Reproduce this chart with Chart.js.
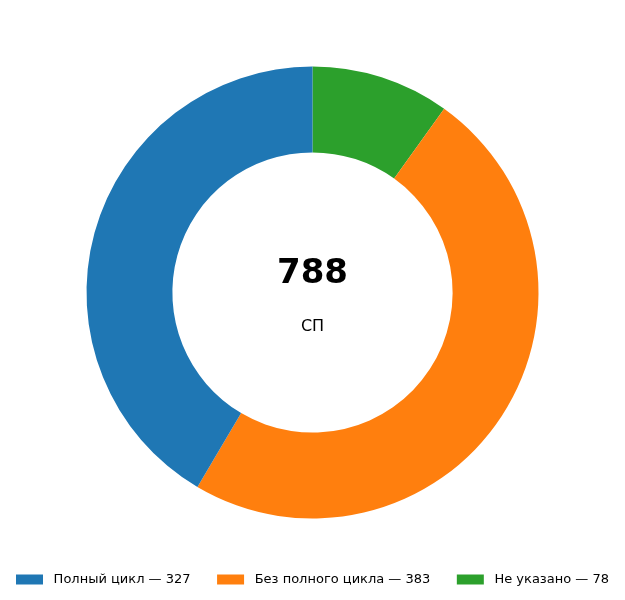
<!DOCTYPE html>
<html>
<head>
<meta charset="utf-8">
<script src="https://cdn.jsdelivr.net/npm/chart.js@4"></script>
<style>
  html, body { margin: 0; padding: 0; background: #fff; }
  #wrap { width: 625px; height: 600px; }
</style>
</head>
<body>
<div id="wrap"><canvas id="donut"></canvas></div>
<script>
// data drawn clockwise from the top: green, orange, blue (legend is shown reversed)
const labels = ['Не указано', 'Без полного цикла', 'Полный цикл'];
const counts = [78, 383, 327];
const colors = ['#2ca02c', '#ff7f0e', '#1f77b4'];
const centerLabel = 'СП';

const total = counts.reduce((a, b) => a + b, 0);

const centerText = {
    id: 'centerText',
    afterDraw(chart) {
        const arc = chart.getDatasetMeta(0).data[0];
        if (!arc) return;
        const ctx = chart.ctx;
        ctx.save();
        ctx.fillStyle = '#000';
        ctx.textAlign = 'center';
        ctx.textBaseline = 'middle';
        ctx.font = 'bold 34px "DejaVu Sans"';
        ctx.fillText(String(total), arc.x, arc.y - 18);
        ctx.font = '16px "DejaVu Sans"';
        ctx.fillText(centerLabel, arc.x, arc.y + 34);
        ctx.restore();
    }
};

const ctx = document.getElementById('donut');

new Chart(ctx, {
    type: 'doughnut',
    data: {
        // extra spaces widen the gaps around the legend text (last legend item has none after it)
        labels: labels.map((l, i) => ' ' + l + ' — ' + counts[i] + (i === 0 ? '' : '    ')),
        datasets: [{
            data: counts,
            backgroundColor: colors,
            borderWidth: 0,
        }]
    },
    options: {
        responsive: true,
        maintainAspectRatio: false,
        animation: false,
        radius: 226,
        cutout: '62%',
        layout: {
            padding: { top: 22, bottom: 4 }
        },
        plugins: {
            tooltip: { enabled: false },
            legend: {
                position: 'bottom',
                reverse: true,
                labels: {
                    boxWidth: 27,
                    boxHeight: 10,
                    padding: 10,
                    color: '#000',
                    font: { family: 'DejaVu Sans', size: 13 }
                }
            }
        }
    },
    plugins: [centerText]
});
</script>
</body>
</html>
